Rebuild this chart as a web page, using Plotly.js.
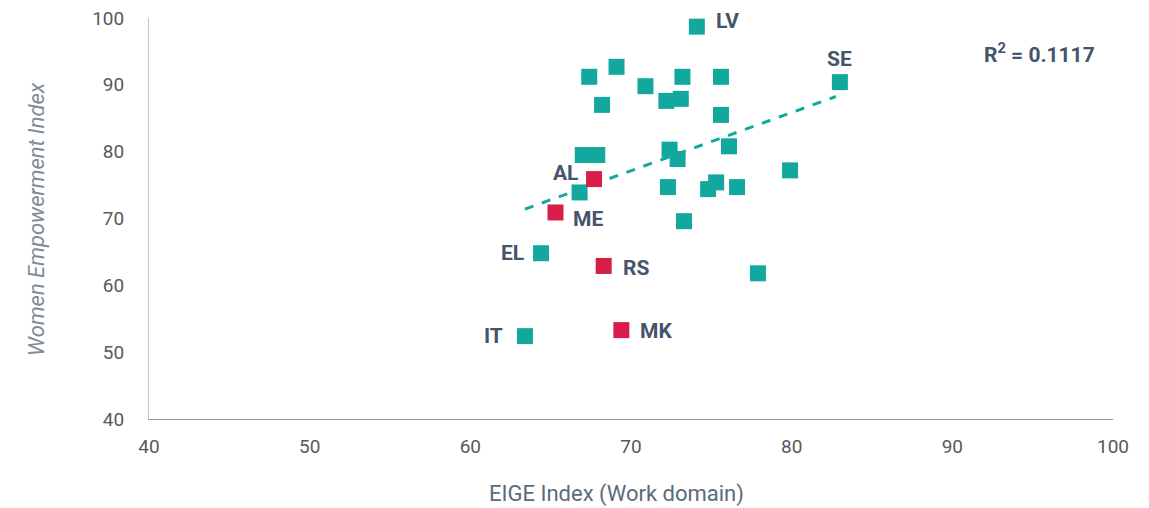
<!DOCTYPE html>
<html>
<head>
<meta charset="utf-8">
<script src="https://cdn.plot.ly/plotly-3.0.1.min.js"></script>
<style>html,body{margin:0;padding:0;background:#fff;}#chart{width:1149px;height:508px;}</style>
</head>
<body>
<div id="chart"></div>
<script>
// EU member states (teal)
const euX = [74.1, 69.1, 67.4, 70.9, 73.2, 75.6, 68.2, 72.2, 73.1, 75.6, 83.0, 67.0, 67.9, 72.4, 72.9, 76.1, 79.9, 66.8, 72.3, 75.3, 74.8, 76.6, 73.3, 64.4, 77.9, 63.4];
const euY = [98.7, 92.7, 91.2, 89.8, 91.2, 91.2, 87.0, 87.6, 87.9, 85.5, 90.4, 79.5, 79.5, 80.3, 78.9, 80.8, 77.2, 73.9, 74.7, 75.4, 74.4, 74.7, 69.6, 64.8, 61.8, 52.4];
const euLabels = ["LV", "", "", "", "", "", "", "", "", "", "SE", "", "", "", "", "", "", "", "", "", "", "", "", "EL", "", "IT"];

// Candidate countries (red)
const candX = [67.7, 65.3, 68.3, 69.4];
const candY = [75.9, 70.9, 62.9, 53.3];
const candLabels = ["AL", "ME", "RS", "MK"];

// Linear trend line
const trendX = [63.4, 82.75];
const trendY = [71.4, 88.25];
const r2Text = "R<sup>2</sup> = 0.1117";

const xTitle = "EIGE Index (Work domain)";
const yTitle = "<i>Women Empowerment Index</i>";

const tickVals = [40, 50, 60, 70, 80, 90, 100];

const teal = "#13A89E";
const red = "#D81E48";
const labelColor = "#44546A";

// label offsets in px (style only)
const offsets = {
  LV: [31, 6], SE: [0, 23], EL: [-29, 0], IT: [-31, 0],
  AL: [-29, 6], ME: [33, -7], RS: [32, -2], MK: [35, -1]
};

const annotations = [];
function addLabels(xs, ys, labels) {
  labels.forEach((lab, i) => {
    if (!lab) return;
    const o = offsets[lab] || [0, 0];
    annotations.push({
      x: xs[i], y: ys[i], xref: "x", yref: "y", text: lab, showarrow: false,
      xanchor: "center", yanchor: "middle",
      xshift: o[0], yshift: o[1],
      font: {family: "Roboto, sans-serif", size: 21, color: labelColor, weight: 700}
    });
  });
}
addLabels(euX, euY, euLabels);
addLabels(candX, candY, candLabels);
annotations.push({
  x: 0.924, y: 0.912, xref: "paper", yref: "paper", text: r2Text, showarrow: false,
  xanchor: "center", yanchor: "middle",
  font: {family: "Roboto, sans-serif", size: 21, color: labelColor, weight: 700}
});
annotations.push({
  x: 0.485, y: -0.187, xref: "paper", yref: "paper", text: xTitle, showarrow: false,
  xanchor: "center", yanchor: "middle",
  font: {family: "Roboto, sans-serif", size: 22, color: "#5A6B7A"}
});
annotations.push({
  x: -0.1162, y: 0.499, xref: "paper", yref: "paper", text: yTitle, showarrow: false,
  xanchor: "center", yanchor: "middle", textangle: -90,
  font: {family: "Roboto, sans-serif", size: 22, color: "#7F8C97"}
});

const traces = [
  {x: trendX, y: trendY, mode: "lines", type: "scatter",
   line: {color: teal, width: 3, dash: "dash"}, hoverinfo: "skip"},
  {x: euX, y: euY, mode: "markers", type: "scatter",
   marker: {symbol: "square", size: 16, color: teal}},
  {x: candX, y: candY, mode: "markers", type: "scatter",
   marker: {symbol: "square", size: 16, color: red}}
];

const layout = {
  width: 1149, height: 508,
  margin: {l: 149, r: 36, t: 18, b: 89},
  paper_bgcolor: "#fff", plot_bgcolor: "#fff",
  showlegend: false,
  font: {family: "Roboto, sans-serif", color: "#595959"},
  xaxis: {
    range: [40, 100], tickvals: tickVals, ticktext: tickVals.map(String),
    showgrid: false, zeroline: false, showline: true, linecolor: "#8A99A8", linewidth: 1,
    ticks: "", ticklabelstandoff: 10,
    tickfont: {size: 19, color: "#595959"}
  },
  yaxis: {
    range: [40, 100], tickvals: tickVals, ticktext: tickVals.map(String),
    showgrid: false, zeroline: false, showline: true, linecolor: "#BFC5CC", linewidth: 1,
    ticks: "", ticklabelstandoff: 20,
    tickfont: {size: 19, color: "#595959"}
  },
  annotations: annotations
};

Plotly.newPlot("chart", traces, layout, {staticPlot: true, displayModeBar: false});
</script>
</body>
</html>
